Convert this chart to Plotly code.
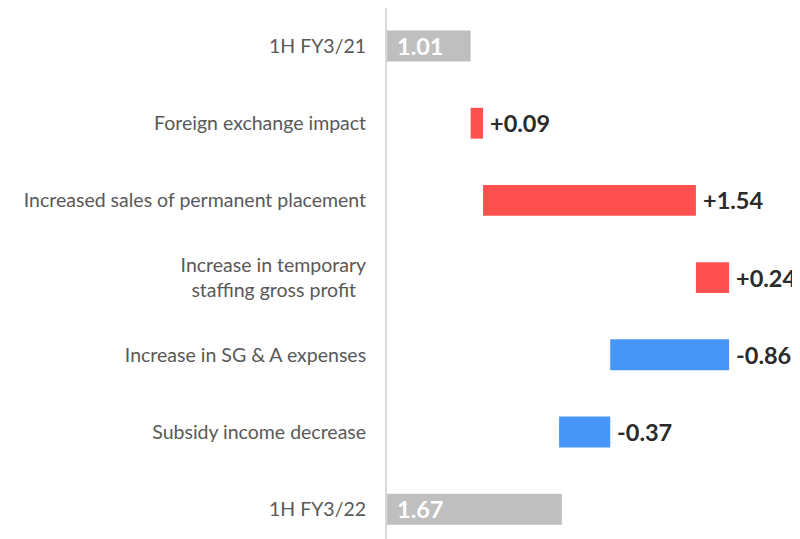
import plotly.graph_objects as go

categories = [
    "1H FY3/21",
    "Foreign exchange impact",
    "Increased sales of permanent placement",
    "Increase in temporary<br>staffing gross profit\u00a0\u00a0",
    "Increase in SG & A expenses",
    "Subsidy income decrease",
    "1H FY3/22",
]
start_total = 1.01
deltas = [0.09, 1.54, 0.24, -0.86, -0.37]
end_total = 1.67

RED = "#FF5050"
BLUE = "#4895F8"
GRAY = "#BFBFBF"
LABEL_DARK = "#2B2B2B"
FONT = "Lato, Calibri, Arial, sans-serif"

fig = go.Figure()

# total bars
fig.add_trace(go.Bar(
    y=[categories[0], categories[-1]],
    x=[start_total, end_total],
    orientation="h",
    marker=dict(color=GRAY, line=dict(width=0)),
    width=0.4,
    hoverinfo="skip",
))

# floating delta bars
bases, widths, colors = [], [], []
running = start_total
for d in deltas:
    new = running + d
    bases.append(min(running, new))
    widths.append(abs(d))
    colors.append(RED if d >= 0 else BLUE)
    running = new

fig.add_trace(go.Bar(
    y=categories[1:-1],
    x=widths,
    base=bases,
    orientation="h",
    marker=dict(color=colors, line=dict(width=0)),
    width=0.4,
    hoverinfo="skip",
))

annotations = []
for cat, b, w, d in zip(categories[1:-1], bases, widths, deltas):
    annotations.append(dict(
        x=b + w, y=cat, xref="x", yref="y",
        text=f"<b>{d:+.2f}</b>", showarrow=False,
        xanchor="left", yanchor="middle", xshift=5,
        font=dict(family=FONT, size=23.5, color=LABEL_DARK),
    ))
for cat, v in [(categories[0], start_total), (categories[-1], end_total)]:
    annotations.append(dict(
        x=0, y=cat, xref="paper", yref="y",
        text=f"<b>{v:.2f}</b>", showarrow=False,
        xanchor="left", yanchor="middle", xshift=8,
        font=dict(family=FONT, size=23.5, color="white"),
    ))

fig.update_layout(
    width=792, height=531,
    margin=dict(l=379, r=0, t=0, b=0, autoexpand=False),
    paper_bgcolor="white", plot_bgcolor="white",
    showlegend=False,
    barmode="overlay",
    annotations=annotations,
    xaxis=dict(range=[0.405, 3.393], showgrid=False, zeroline=False,
               showticklabels=False, showline=False, fixedrange=True,
               automargin=False),
    yaxis=dict(
        type="category", categoryorder="array", categoryarray=categories,
        range=[6.386, -0.492], showgrid=False, zeroline=False,
        showline=True, linecolor="#D9D9D9", linewidth=2,
        ticks="", ticklabelstandoff=15, automargin=False,
        tickfont=dict(family=FONT, size=19.5, color="#595959"),
    ),
)

fig.write_html("out.html")
